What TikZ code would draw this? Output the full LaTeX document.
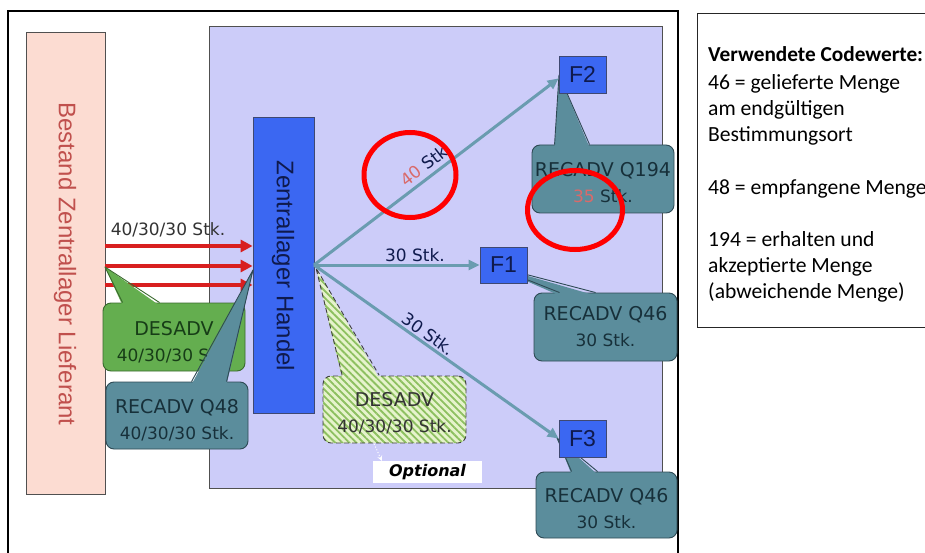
\documentclass[tikz,border=0pt]{standalone}
\usepackage{fontspec}
\setmainfont{DejaVu Sans}
\newfontfamily\arialf{Liberation Sans}
\newfontfamily\calib{Carlito}
\usetikzlibrary{arrows.meta,calc,patterns.meta}
\definecolor{pinkF}{HTML}{FCDCD2}
\definecolor{pinkT}{HTML}{C0504D}
\definecolor{lav}{HTML}{CCCCF9}
\definecolor{hblue}{HTML}{3B67F2}
\definecolor{navy}{HTML}{0F1A4D}
\definecolor{tealF}{HTML}{5B8D9C}
\definecolor{tealB}{HTML}{2E4A55}
\definecolor{tealT}{HTML}{17303A}
\definecolor{gF}{HTML}{64AE4F}
\definecolor{gB}{HTML}{3A6A2E}
\definecolor{gT}{HTML}{173D17}
\definecolor{hatchF}{HTML}{E6F3CC}
\definecolor{hatchL}{HTML}{8DC060}
\definecolor{arrC}{HTML}{6A9CB0}
\definecolor{redA}{HTML}{D81F1F}
\definecolor{faded}{HTML}{D96A6A}
\definecolor{grayB}{HTML}{505050}
\newcommand{\ptrfill}[5]{%
  \fill[#1] (#3) -- ($(#4)+(0,3)$) -- ($(#5)+(0,3)$) -- cycle;
  \draw[#2] (#4) -- (#3) -- (#5);}
\begin{document}
\begin{tikzpicture}[x=1pt,y=-1pt,
  plainbox/.style={draw=grayB, line width=0.8pt, inner sep=0pt},
  fbox/.style={draw=navy!80, line width=0.8pt, fill=hblue, inner sep=0pt,
     minimum width=47pt, minimum height=37pt, text=navy,
     font=\arialf\fontsize{23}{24}\selectfont},
  cbox/.style={rounded corners=8pt, line width=0.9pt, inner sep=0pt,
     minimum width=142pt, minimum height=67pt, align=center,
     font=\fontsize{19}{26}\selectfont},
  tealbox/.style={cbox, fill=tealF, draw=tealB, text=tealT},
  tealline/.style={draw=tealB, line width=0.9pt, line join=round},
  greenline/.style={draw=gB, line width=0.9pt, line join=round},
  redarrow/.style={draw=redA, line width=3.5pt, -{Triangle[length=12pt,width=12pt]}},
  grayarrow/.style={draw=arrC, line width=3pt, -{Triangle[length=11pt,width=10pt]}},
  lbl/.style={font=\fontsize{17}{20}\selectfont, text=navy, inner sep=2pt},
  leg/.style={anchor=base west, inner sep=0pt, font=\calib\fontsize{21.6}{25}\selectfont},
  circ/.style={draw=red, line width=5pt}]
\useasboundingbox (0,0) rectangle (925,553);
\fill[white] (0,0) rectangle (925,553);
% outer frame
\draw[line width=2pt, black] (8,556) -- (8,11) -- (678,11) -- (678,556);
% legend box
\draw[line width=1pt, black!85] (927,14) -- (697,14) -- (697,327) -- (927,327);
\node[leg, font=\calib\bfseries\fontsize{21.3}{25}\selectfont] (leg1) at (708,62) {Verwendete Codewerte:};
\node[leg] (leg2) at (708,90) {46 = gelieferte Menge};
\node[leg] (leg3) at (708,116) {am endgültigen};
\node[leg] (leg4) at (708,142) {Bestimmungsort};
\node[leg] (leg5) at (708,195) {48 = empfangene Menge};
\node[leg] (leg6) at (708,247) {194 = erhalten und};
\node[leg] (leg7) at (708,272) {akzeptierte Menge};
\node[leg] (leg8) at (708,298) {(abweichende Menge)};
% main boxes
\node[plainbox, fill=pinkF, minimum width=79pt, minimum height=462pt] (pink) at (65.5,263) {};
\node[rotate=-90, text=pinkT, font=\arialf\fontsize{24}{28}\selectfont] (pinkt) at (65,264) {Bestand Zentrallager Lieferant};
\node[plainbox, fill=lav, minimum width=453pt, minimum height=462pt] (lav) at (435.5,257) {};
% red arrows
\coordinate (r1) at (0,246);
\coordinate (r2) at (0,266);
\coordinate (r3) at (0,285);
\node[lbl, text=black!80] (lab1) at (168,230) {40/30/30 Stk.};
% Handel box
\node[plainbox, draw=navy!80, fill=hblue, minimum width=61pt, minimum height=296pt] (handel) at (283.5,265) {};
\node[rotate=-90, text=navy, font=\arialf\fontsize{24}{28}\selectfont] (handelt) at (283,266) {Zentrallager Handel};
\draw[redarrow] (pink.east |- r1) -- (handel.west |- r1);
\draw[redarrow] (pink.east |- r2) -- (handel.west |- r2);
\draw[redarrow] (pink.east |- r3) -- (handel.west |- r3);
\coordinate (hub) at (314,265);
% green DESADV
\node[cbox, fill=gF, draw=gB, text=gT, minimum height=68pt] (green) at (174,337)
  {\rule{0pt}{24pt}DESADV\\{\fontsize{17}{20}\selectfont 40/30/30 Stk.}};
\coordinate (gtip) at (105,267);
\ptrfill{gF}{greenline}{gtip}{$(green.north west)+(20,0)$}{$(green.north west)+(57,0)$}
% RECADV Q48
\node[tealbox] (q48) at (177,415.5)
  {\rule{0pt}{24pt}RECADV Q48\\{\fontsize{17}{20}\selectfont 40/30/30 Stk.}};
\coordinate (q48tip) at (253,270);
\ptrfill{tealF}{tealline}{q48tip}{$(q48.north west)+(86,0)$}{$(q48.north west)+(121,0)$}
% hatched optional DESADV
\node[cbox, preaction={fill=hatchF}, pattern={Lines[angle=-45,distance=5pt,line width=1.8pt]}, pattern color=hatchL,
  draw=black!75, dash pattern=on 5pt off 3pt, minimum width=143pt, text=black!80] (hatch) at (394.5,409.5)
  {\rule{0pt}{22pt}DESADV\\{\fontsize{17}{20}\selectfont 40/30/30 Stk.}};
\coordinate (htip) at (316,268);
\fill[hatchF] (htip) -- ($(hatch.north west)+(20,3)$) -- ($(hatch.north west)+(57,3)$) -- cycle;
\fill[pattern={Lines[angle=-45,distance=5pt,line width=1.8pt]}, pattern color=hatchL]
  (htip) -- ($(hatch.north west)+(20,3)$) -- ($(hatch.north west)+(57,3)$) -- cycle;
\draw[draw=black!75, line width=0.9pt, dash pattern=on 5pt off 3pt]
  ($(hatch.north west)+(20,0)$) -- (htip) -- ($(hatch.north west)+(57,0)$);
% Optional
\node[fill=white, minimum width=109pt, minimum height=22pt, inner sep=0pt,
  font=\bfseries\itshape\fontsize{16}{18}\selectfont] (opt) at (427.5,472) {Optional};
\draw[white, line width=1pt, dotted, -{Stealth[length=5pt,width=5pt]}]
  ($(hatch.south west)+(52,0)$) -- ($(opt.north west)+(9,0)$);
% RECADV Q194
\node[tealbox, minimum height=68pt] (q194) at (603,179)
  {\rule{0pt}{22pt}RECADV Q194\\{\fontsize{17}{20}\selectfont {\color{faded}35} Stk.}};
\coordinate (q194tip) at (559,75);
\ptrfill{tealF}{tealline}{q194tip}{$(q194.north west)+(23,0)$}{$(q194.north west)+(58,0)$}
% RECADV Q46 (F1)
\node[tealbox, minimum width=143pt, minimum height=68pt] (q46a) at (605.5,327)
  {RECADV Q46\\{\fontsize{17}{20}\selectfont 30 Stk.}};
\coordinate (q46atip) at (490,265);
\ptrfill{tealF}{tealline}{q46atip}{$(q46a.north west)+(26,0)$}{$(q46a.north west)+(62,0)$}
% RECADV Q46 (F3)
\node[tealbox, minimum width=141pt, minimum height=66pt] (q46b) at (606.5,505)
  {\rule{0pt}{22pt}RECADV Q46\\{\fontsize{17}{20}\selectfont 30 Stk.}};
\coordinate (q46btip) at (557,438);
\ptrfill{tealF}{tealline}{q46btip}{$(q46b.north west)+(36,0)$}{$(q46b.north west)+(62,0)$}
% F boxes
\node[fbox] (F2) at (582.5,74.5) {F2};
\node[fbox, minimum height=36pt] (F1) at (503.5,265) {F1};
\node[fbox] (F3) at (582.5,438.5) {F3};
% gray arrows
\draw[grayarrow] (hub) -- node[lbl, pos=0.48, sloped, above=2pt] (lab40) {{\color{faded}40} Stk} ($(F2.south west)+(0,-15)$);
\draw[grayarrow] (hub) -- node[lbl, pos=0.61, above] (lab30a) {30 Stk.} (F1.west);
\draw[grayarrow] (hub) -- node[lbl, pos=0.445, sloped, above] (lab30b) {30 Stk.} (F3.west);
% red circles
\draw[circ] (410,175) ellipse [x radius=46, y radius=42.5];
\draw[circ] (575,210) ellipse [x radius=47.5, y radius=39.5];
\end{tikzpicture}
\end{document}
